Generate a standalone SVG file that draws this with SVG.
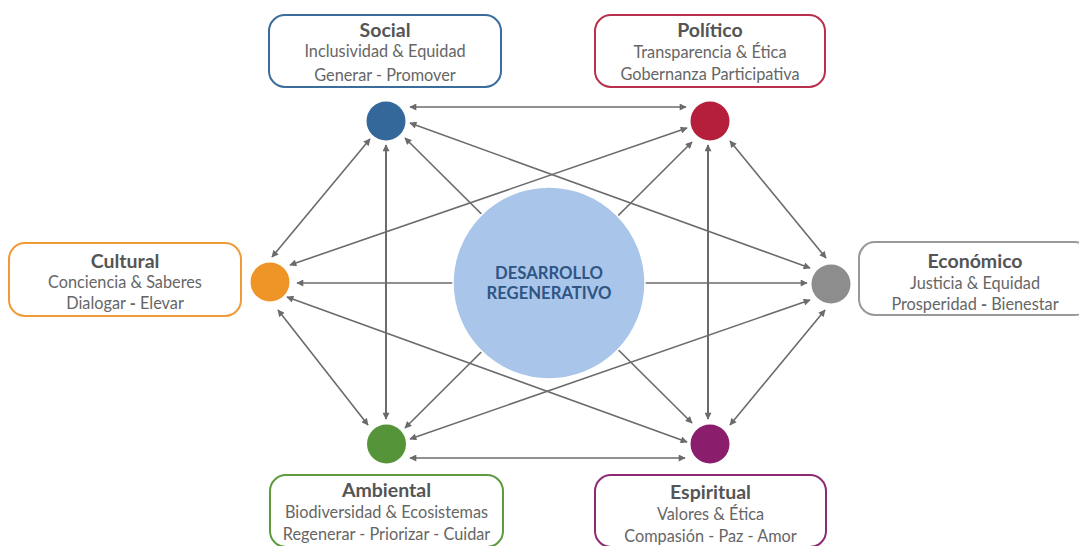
<svg xmlns="http://www.w3.org/2000/svg" width="1079" height="546" viewBox="0 0 1079 546">
<style>
.t{font-family:Lato,"Open Sans","Liberation Sans",sans-serif;font-weight:700;font-size:19.5px;fill:#555;text-anchor:middle}
.s{font-family:Lato,"Open Sans","Liberation Sans",sans-serif;font-size:16.3px;fill:#666;text-anchor:middle}
.box{fill:#fff;stroke-width:2}
.ln{stroke:#6b6b6b;stroke-width:1.6;fill:none;marker-start:url(#ah);marker-end:url(#ah)}
.v{stroke-width:2}
.ct{font-family:Lato,"Open Sans","Liberation Sans",sans-serif;font-weight:700;font-size:16.7px;fill:#2f5584;text-anchor:middle}
</style>
<defs>
<marker id="ah" viewBox="0 0 10 10" refX="9" refY="5" markerWidth="8" markerHeight="7" markerUnits="userSpaceOnUse" orient="auto-start-reverse">
<path d="M0,0 L10,5 L0,10 Z" fill="#6b6b6b"/>
</marker>
</defs>
<rect width="1079" height="546" fill="#fff"/>
<g id="connectors">
<line class="ln" x1="410" y1="107" x2="686" y2="107"/>
<line class="ln" x1="370" y1="139" x2="272" y2="257"/>
<line class="ln v" x1="386" y1="145" x2="386" y2="419"/>
<line class="ln" x1="410" y1="123" x2="810" y2="268"/>
<line class="ln" x1="405" y1="138" x2="692" y2="423"/>
<line class="ln" x1="687" y1="128" x2="290" y2="265"/>
<line class="ln" x1="730" y1="141" x2="826" y2="258"/>
<line class="ln v" x1="708" y1="145" x2="708" y2="419"/>
<line class="ln" x1="692" y1="142" x2="405" y2="428"/>
<line class="ln" x1="297" y1="283" x2="807" y2="283"/>
<line class="ln" x1="278" y1="310" x2="368" y2="425"/>
<line class="ln" x1="287" y1="297" x2="687" y2="442"/>
<line class="ln" x1="810" y1="300" x2="410" y2="439"/>
<line class="ln" x1="825" y1="310" x2="730" y2="425"/>
<line class="ln" x1="410" y1="458" x2="685" y2="458"/>
</g>
<g id="center">
<circle cx="549" cy="283" r="96" fill="#a9c5e9" stroke="#fff" stroke-width="1.5"/>
<text class="ct" x="549" y="279">DESARROLLO</text>
<text class="ct" x="549" y="299">REGENERATIVO</text>
</g>
<g id="social">
<circle cx="386" cy="121" r="19.5" fill="#35689a"/>
<rect class="box" x="269" y="15" width="232" height="72" rx="16" stroke="#3a6c9c"/>
<text class="t" x="385" y="37">Social</text>
<text class="s" x="385" y="57">Inclusividad &amp; Equidad</text>
<text class="s" x="385" y="81">Generar - Promover</text>
</g>
<g id="politico">
<circle cx="710" cy="121" r="19.5" fill="#b51f3c"/>
<rect class="box" x="595" y="15" width="230" height="72" rx="16" stroke="#b8304b"/>
<text class="t" x="710" y="37">Político</text>
<text class="s" x="710" y="57.5">Transparencia &amp; Ética</text>
<text class="s" x="710" y="80">Gobernanza Participativa</text>
</g>
<g id="cultural">
<circle cx="270" cy="282" r="19.5" fill="#ef9527"/>
<rect class="box" x="9" y="243" width="232" height="73" rx="16" stroke="#ef9a36"/>
<text class="t" x="125" y="268">Cultural</text>
<text class="s" x="125" y="287.5">Conciencia &amp; Saberes</text>
<text class="s" x="125" y="309">Dialogar <tspan font-weight="700">-</tspan> Elevar</text>
</g>
<g id="economico">
<circle cx="831" cy="284" r="19.5" fill="#8d8d8d"/>
<rect class="box" x="859" y="242" width="232" height="73" rx="16" stroke="#999"/>
<text class="t" x="975" y="268">Económico</text>
<text class="s" x="975" y="289">Justicia &amp; Equidad</text>
<text class="s" x="975" y="310">Prosperidad <tspan font-weight="700">-</tspan> Bienestar</text>
</g>
<g id="ambiental">
<circle cx="386.5" cy="444" r="19.5" fill="#56943a"/>
<rect class="box" x="270" y="475" width="233" height="72" rx="16" stroke="#5d9a40"/>
<text class="t" x="386.5" y="497">Ambiental</text>
<text class="s" x="386.5" y="518">Biodiversidad &amp; Ecosistemas</text>
<text class="s" x="386.5" y="540">Regenerar - Priorizar - Cuidar</text>
</g>
<g id="espiritual">
<circle cx="710" cy="444" r="19.5" fill="#8a1e6d"/>
<rect class="box" x="595" y="475" width="231" height="72" rx="16" stroke="#8e2a73"/>
<text class="t" x="710.5" y="498.5">Espiritual</text>
<text class="s" x="710.5" y="519.5">Valores &amp; Ética</text>
<text class="s" x="710.5" y="541.5">Compasión - Paz - Amor</text>
</g>
</svg>
